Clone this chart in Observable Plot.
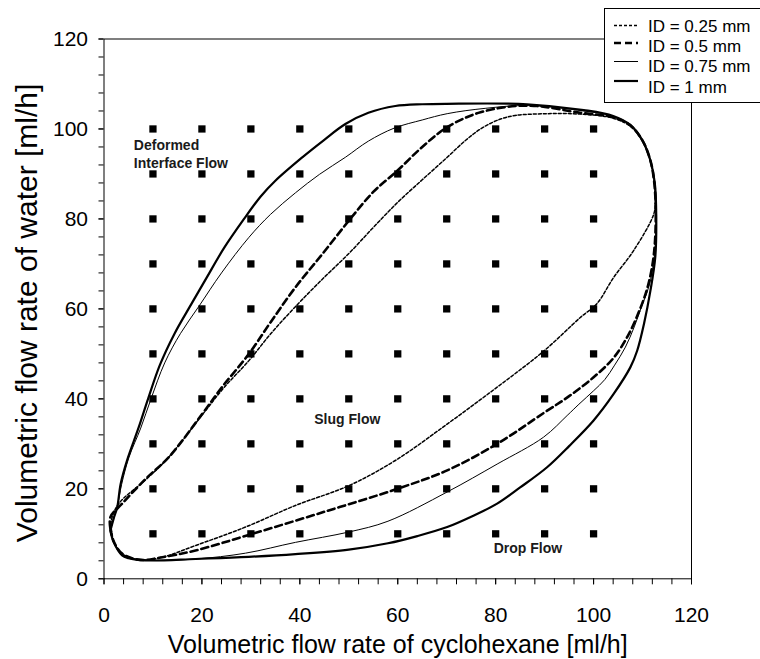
<!DOCTYPE html>
<html>
<head>
<meta charset="utf-8">
<script src="https://cdn.jsdelivr.net/npm/d3@7"></script>
<script src="https://cdn.jsdelivr.net/npm/@observablehq/plot@0.6"></script>
<style>
  html, body { margin: 0; padding: 0; background: white; overflow: hidden; }
  #wrap { position: relative; width: 760px; height: 659px; }
  #legend { position: absolute; left: 604px; top: 7.5px; width: 170px; height: 93px;
            border: 1px solid black; background: white; }
</style>
</head>
<body>
<div id="wrap"><div id="chart"></div><div id="legend"></div></div>
<script>
// ---- Data ----
const xTickLabels = [0, 20, 40, 60, 80, 100, 120];
const yTickLabels = [0, 20, 40, 60, 80, 100, 120];
const minorTicks = d3.range(0, 121, 4);

const gridX = [10, 20, 30, 40, 50, 60, 70, 80, 90, 100];
const gridY = [10, 20, 30, 40, 50, 60, 70, 80, 90, 100];

// ID = 0.25 mm
const id025 = [[1.5,11],[1.5,13],[3,16.7],[8.5,22],[13.2,27],[20.1,36.5],[24.5,42.5],[29.6,48.5],[34,54.4],[39.1,60.5],[44.5,66.5],[50,72.3],[55,78.1],[60,83.7],[65,88.7],[70.1,93.7],[74,97.6],[77.5,100.4],[81,102.2],[84,103],[90.5,103.4],[97.3,103.3],[104,102.4],[107.5,100.6],[110,97.3],[111.6,93],[112.4,88],[112.6,84],[112.3,81.1],[108.2,73],[104.1,67],[100.7,61.2],[97.3,58.1],[89.8,50.6],[80.3,42.6],[70.1,34.4],[59.5,26.3],[50,20.7],[39.1,16.3],[28.9,11.5],[18.7,7.4],[11.9,4.8],[7.4,4.2],[3.7,5.6],[2,8.3],[1.5,11]];
// ID = 0.5 mm
const id05 = [[1.3,11.2],[1.3,13.7],[3.7,16.7],[8.5,22.2],[13.2,27],[20.1,36.7],[24.1,42.6],[29.6,50],[34,57],[39.1,64.8],[44.6,72.2],[50,79.6],[55,86],[59.9,90.7],[65,96],[70.1,100.4],[76.9,103.7],[86.4,105.2],[97.3,103.6],[104,102.6],[107.5,100.8],[110,97.4],[111.6,93],[112.4,88],[112.7,80.4],[112.3,72],[111.2,65.5],[109.5,60],[107,54],[104,49],[100,44.8],[95,40.6],[90,37],[80.3,30],[70.1,24.1],[59.9,20],[45.9,15.2],[30.3,10],[18.7,6.3],[11.9,4.8],[7.4,4.2],[3.7,5.6],[2,8.3],[1.3,11.2]];
// ID = 0.75 mm
const id075 = [[1.3,10.7],[2,13.5],[2.7,16],[3.6,21],[5.1,27],[7.5,33.5],[9.6,40],[12.4,48],[15.6,54.5],[19.4,60.6],[24,68],[29.6,75.9],[34,81],[39.1,85.8],[44,89.9],[49.3,93.7],[54,97.3],[59.3,100.2],[65,102],[70.1,103.4],[78,104.6],[86.4,105.2],[98,104],[104,102.8],[107.5,100.9],[110,97.4],[111.6,93],[112.5,88],[112.8,80.4],[112.4,71.5],[111.3,65],[109.8,60.5],[108.3,56],[106.5,51.5],[104.3,47.5],[102.3,44.3],[100,41.8],[97,38.8],[94.6,36.3],[89.8,31.5],[80.3,25.5],[70.1,19.3],[58,12.8],[50,10.4],[39.1,8.1],[28.9,5.7],[18.7,4.4],[8.5,4.1],[5,4.6],[3.7,5.2],[2,8.1],[1.3,10.7]];
// ID = 1 mm
const id1 = [[1.3,10.7],[2,13.5],[2.7,15.9],[3.4,21.1],[4.7,26.3],[7.1,33.7],[9,40],[11.4,47.5],[14.4,54.5],[17.8,61],[21,67],[24.5,73.5],[28.6,80],[32,85],[35,88.5],[40.5,93.7],[45,97.6],[49.3,101.1],[54,103.6],[59.5,105.1],[65,105.5],[70,105.6],[86.4,105.5],[98,104.2],[104,102.9],[107.5,100.9],[110,97.4],[111.6,93],[112.5,88],[112.8,80.4],[112.6,71.5],[111.6,64],[110.3,56.7],[108.9,50.7],[107.5,47],[104.1,41.1],[100,35.2],[95,29.5],[90.5,24.8],[85,20.3],[80.3,16.7],[75,13.8],[70.1,11.5],[64,9.5],[58,7.9],[50,6.5],[39.1,5.5],[28,4.8],[18.7,4.4],[8.5,4.1],[5,4.6],[3.7,5.2],[2,8.1],[1.3,10.7]];

const seriesNames = ["ID = 0.25 mm", "ID = 0.5 mm", "ID = 0.75 mm", "ID = 1 mm"];
const seriesData = [id025, id05, id075, id1];

const regionLabels = ["Deformed\nInterface Flow", "Slug Flow", "Drop Flow"];
const regionX = [6.1, 49.7, 86.6];
const regionY = [94.6, 35.3, 6.7];

// ---- Styles ----
const styles = [
  {strokeWidth: 1.5, strokeDasharray: "3,2"},
  {strokeWidth: 2.6, strokeDasharray: "7,4"},
  {strokeWidth: 1, strokeDasharray: null},
  {strokeWidth: 2.2, strokeDasharray: null}
];
const font = "'Liberation Sans', Arial, sans-serif";

const squares = gridY.flatMap(y => gridX.map(x => ({x, y})));
const labels = regionLabels.map((t, i) => ({t, x: regionX[i], y: regionY[i]}));

const lineMarks = seriesData.map((pts, i) =>
  Plot.line(pts.map(([x, y]) => ({x, y})), {
    x: "x", y: "y", curve: "catmull-rom", stroke: "black",
    strokeWidth: styles[i].strokeWidth,
    strokeDasharray: styles[i].strokeDasharray || undefined,
    strokeLinejoin: "round"
  })
);

const chart = Plot.plot({
  width: 760, height: 659,
  marginLeft: 103.5, marginRight: 69, marginTop: 38.5, marginBottom: 80.7,
  x: {domain: [0, 120]},
  y: {domain: [0, 120]},
  style: {fontFamily: font, background: "white", color: "black"},
  marks: [
    Plot.dot(squares, {x: "x", y: "y", symbol: "square", r: 4.1, fill: "black", stroke: null}),
    ...lineMarks,
    Plot.text(labels.slice(0, 1), {x: "x", y: "y", text: "t", textAnchor: "start",
      fontWeight: "bold", fontSize: 14, lineHeight: 1.3, fill: "#1a1a1a"}),
    Plot.text(labels.slice(1), {x: "x", y: "y", text: "t", textAnchor: "middle",
      fontWeight: "bold", fontSize: 14, fill: "#1a1a1a"}),
    Plot.frame({stroke: "black", strokeWidth: 1}),
    Plot.axisX(minorTicks, {tickSize: 6, tickFormat: () => "", label: null}),
    Plot.axisX(xTickLabels, {tickSize: 6, tickPadding: 22, fontSize: 21, label: null}),
    Plot.axisY(minorTicks, {tickSize: 5, tickFormat: () => "", label: null}),
    Plot.axisY(yTickLabels, {tickSize: 5, tickPadding: 11, fontSize: 21, label: null}),
    Plot.text(["Volumetric flow rate of cyclohexane [ml/h]"], {frameAnchor: "bottom", textAnchor: "middle", dy: 66, fontSize: 25, lineAnchor: "middle"}),
    Plot.text(["Volumetric flow rate of water [ml/h]"], {frameAnchor: "left", textAnchor: "middle", dx: -77, dy: 4, rotate: -90, fontSize: 30, lineAnchor: "middle"})
  ]
});
document.getElementById("chart").appendChild(chart);

// ---- Legend (overlay box, top right) ----
const lg = d3.select("#legend").append("svg").attr("width", 170).attr("height", 93)
  .style("font-family", font);
const lineYs = [16.5, 34, 52.5, 72];
const textYs = [17.5, 37, 57.5, 78.5];
seriesNames.forEach((name, i) => {
  lg.append("line").attr("x1", 9).attr("x2", 33).attr("y1", lineYs[i]).attr("y2", lineYs[i])
    .attr("stroke", "black").attr("stroke-width", styles[i].strokeWidth)
    .attr("stroke-dasharray", styles[i].strokeDasharray);
  lg.append("text").attr("x", 43).attr("y", textYs[i]).attr("dy", "0.35em")
    .attr("font-size", 17).text(name);
});
</script>
</body>
</html>
